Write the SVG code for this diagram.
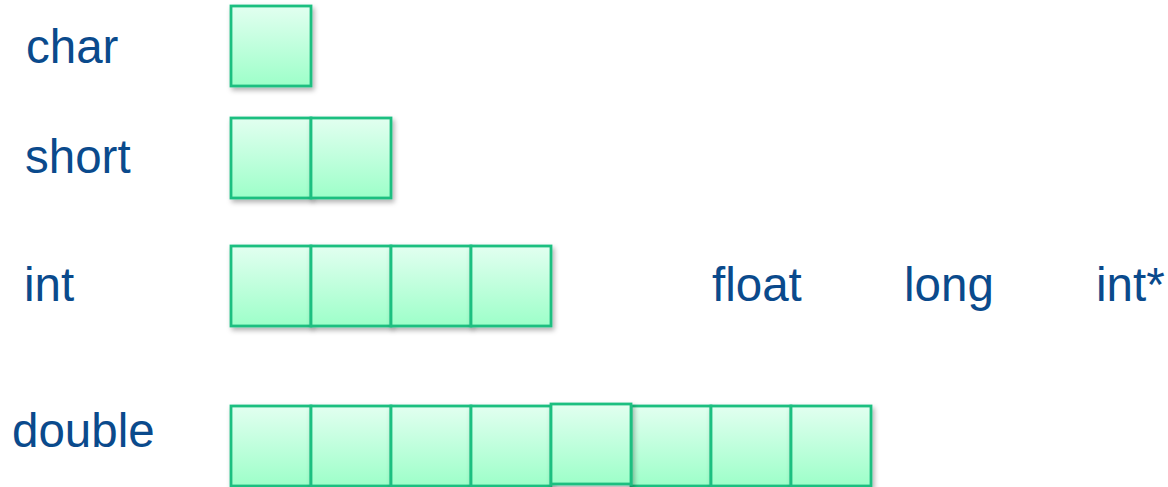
<svg xmlns="http://www.w3.org/2000/svg" width="1168" height="487" viewBox="0 0 1168 487">
<defs>
<linearGradient id="g" x1="0" y1="0" x2="0" y2="1">
<stop offset="0" stop-color="#e2fff0"/>
<stop offset="1" stop-color="#9dffc9"/>
</linearGradient>
<filter id="sh" x="-20%" y="-20%" width="150%" height="150%">
<feDropShadow dx="2" dy="3" stdDeviation="2.5" flood-color="#000" flood-opacity="0.3"/>
</filter>
</defs>
<style>
.b{fill:url(#g);stroke:#1dbf80;stroke-width:2.8;filter:url(#sh)}
.t{font-family:"Liberation Sans",Arial,sans-serif;font-size:47.5px;fill:#0a4a8c}
</style>
<rect width="1168" height="487" fill="#fff"/>
<g id="char">
<text class="t" x="26" y="63">char</text>
<rect class="b" x="231" y="6" width="80" height="80"/>
</g>
<g id="short">
<text class="t" x="25" y="173">short</text>
<rect class="b" x="231" y="118" width="80" height="80"/>
<rect class="b" x="311" y="118" width="80" height="80"/>
</g>
<g id="int">
<text class="t" x="24" y="301">int</text>
<rect class="b" x="231" y="246" width="80" height="80"/>
<rect class="b" x="311" y="246" width="80" height="80"/>
<rect class="b" x="391" y="246" width="80" height="80"/>
<rect class="b" x="471" y="246" width="80" height="80"/>
</g>
<g id="others">
<text class="t" x="712" y="301">float</text>
<text class="t" x="904" y="301">long</text>
<text class="t" x="1096" y="301">int*</text>
</g>
<g id="double">
<text class="t" x="12" y="447">double</text>
<rect class="b" x="231" y="406" width="80" height="80"/>
<rect class="b" x="311" y="406" width="80" height="80"/>
<rect class="b" x="391" y="406" width="80" height="80"/>
<rect class="b" x="471" y="406" width="80" height="80"/>
<rect class="b" x="631" y="406" width="80" height="80"/>
<rect class="b" x="711" y="406" width="80" height="80"/>
<rect class="b" x="791" y="406" width="80" height="80"/>
<rect class="b" x="551" y="404" width="80" height="80"/>
</g>
<g id="connectors"/>
</svg>
